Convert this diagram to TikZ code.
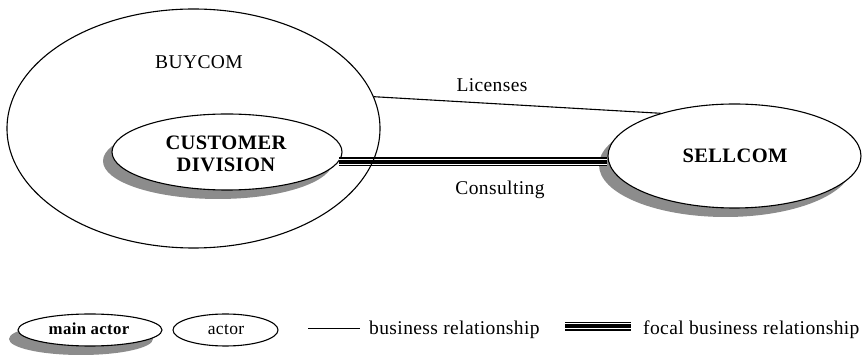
\documentclass[tikz,border=0pt]{standalone}
\usepackage{fontspec}
\setmainfont{Liberation Serif}[LetterSpace=2]
\usetikzlibrary{shapes.geometric,shadows}
\begin{document}
\begin{tikzpicture}[x=1pt,y=-1pt,
  actorshape/.style={ellipse, draw=black, line width=1.1pt, inner sep=0pt, fill=white},
  mainactor/.style={actorshape,
    drop shadow={shadow xshift=-9pt, shadow yshift=-9pt, fill=black!45, opacity=1}},
  label/.style={inner sep=0pt, anchor=base, font=\fontsize{19.5}{23}\selectfont},
  boldlabel/.style={inner sep=0pt, anchor=base, font=\fontsize{20.5}{24}\selectfont\bfseries},
  legendlabel/.style={inner sep=0pt, anchor=base west, font=\fontsize{19.5}{23}\selectfont},
  relation/.style={line width=1.1pt},
  focal/.style={line width=8.8pt, draw=black,
    postaction={draw=white, line width=6pt},
    postaction={draw=black, line width=3.6pt}}
]
\useasboundingbox (0,0) rectangle (863,355);

% actors with their shadows
\node[mainactor, minimum width=230pt, minimum height=76pt] (cust) at (227,152) {};
\node[mainactor, minimum width=253pt, minimum height=104pt] (sell) at (734.5,156) {};

% focal relationship between the customer division and SELLCOM
\draw[focal] (cust.-5) -- (sell.west |- cust.-5);

% the surrounding company
\node[ellipse, draw=black, line width=1.1pt, inner sep=0pt,
      minimum width=373pt, minimum height=239pt] (buy) at (193.5,128.5) {};

% licensing relationship
\draw[relation] (buy.10.3) -- (sell.150);

% texts
\node[label] (tbuy) at (199,68.5) {BUYCOM};
\node[boldlabel] (tcust) at (226,150) {CUSTOMER};
\node[boldlabel] (tdiv) at (226,172) {DIVISION};
\node[boldlabel] (tsell) at (735,162.5) {SELLCOM};
\node[label] (tlic) at (492,92) {Licenses};
\node[label] (tcons) at (500,195) {Consulting};

% legend
\node[mainactor, minimum width=144pt, minimum height=32pt] (lmain) at (90,330) {};
\node[inner sep=0pt, anchor=base, font=\fontsize{16.8}{20}\selectfont\bfseries] at (89,335) {main actor};
\node[actorshape, minimum width=105pt, minimum height=32pt] (lact) at (225.5,330) {};
\node[inner sep=0pt, anchor=base, font=\fontsize{17.5}{21}\selectfont] at (226,335) {actor};

\coordinate (bl1) at (308,328.3);
\coordinate (bl2) at (360,328.3);
\draw[relation] (bl1) -- (bl2);
\node[legendlabel] (lbus) at (369,335) {business relationship};

\coordinate (fl1) at (565,326.3);
\coordinate (fl2) at (631,326.3);
\draw[focal] (fl1) -- (fl2);
\node[legendlabel] (lfoc) at (643,335) {focal business relationship};
\end{tikzpicture}
\end{document}
